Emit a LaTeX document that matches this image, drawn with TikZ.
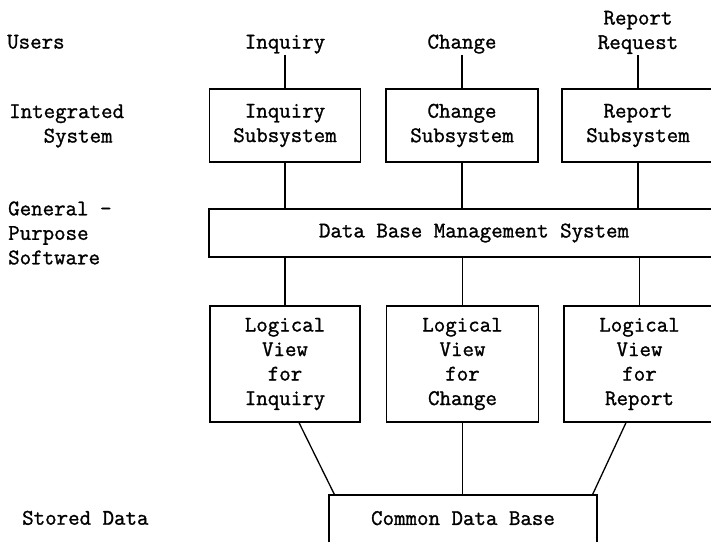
\documentclass[tikz,border=0pt]{standalone}
\usepackage{fontspec}
\newfontfamily\tw{Latin Modern Mono}[FakeBold=1.2]
\usetikzlibrary{calc}
\begin{document}
\begin{tikzpicture}[x=1pt,y=-1pt,
  every node/.style={font=\tw\fontsize{22.3}{24.5}\selectfont},
  box/.style={draw, line width=1.3pt, inner sep=0pt, align=center},
  lbl/.style={inner sep=1pt, align=center},
  side/.style={inner sep=0pt, align=left},
  conn/.style={line width=1.3pt}]
\useasboundingbox (0,0) rectangle (711,541);
\fill[white] (0,0) rectangle (711,541);
\clip (0,0) rectangle (711,541);

% left-hand level labels
\node[side, anchor=base west] (users) at (7,48.5) {Users};
\node[side, anchor=west] (integ) at (9,126) {Integrated\\\phantom{Int}System};
\node[side, anchor=west] (gen) at (8,233) {General -\\Purpose\\Software};
\node[side, anchor=base west] (stored) at (22,524.7) {Stored Data};

% user labels
\node[lbl, anchor=base] (linq) at (285,48.5) {Inquiry};
\node[lbl, anchor=base] (lchg) at (462,48.5) {Change};
\node[lbl] (lrep) at (638,32.4) {Report\\Request};

% subsystems
\node[box, minimum width=151pt, minimum height=73pt] (sinq) at (285,125.5) {Inquiry\\Subsystem};
\node[box, minimum width=152pt, minimum height=73pt] (schg) at (462,125.5) {Change\\Subsystem};
\node[box, minimum width=152pt, minimum height=73pt] (srep) at (638,125.5) {Report\\Subsystem};

% DBMS
\node[box, minimum width=530pt, minimum height=48pt] (dbms) at (474,233) {Data Base Management System};

% logical views
\node[box, minimum width=150pt, minimum height=116pt] (lvi) at (285,364) {Logical\\View\\for\\Inquiry};
\node[box, minimum width=152pt, minimum height=116pt] (lvc) at (462.5,364) {Logical\\View\\for\\Change};
\node[box, minimum width=151pt, minimum height=116pt] (lvr) at (639.5,364) {Logical\\View\\for\\Report};

% common data base
\node[box, minimum width=268pt, minimum height=60pt, text depth=14pt] (cdb) at (463,525) {Common Data Base};

% connectors
\draw[conn] (linq.south) -- (sinq.north);
\draw[conn] (lchg.south) -- (schg.north);
\draw[conn] (lrep.south) -- (srep.north);

\draw[conn] (sinq.south) -- (sinq.south |- dbms.north);
\draw[conn] (schg.south) -- (schg.south |- dbms.north);
\draw[conn] (srep.south) -- (srep.south |- dbms.north);

\draw[conn] (lvi.north |- dbms.south) -- (lvi.north);
\draw[conn] (lvc.north |- dbms.south) -- (lvc.north);
\draw[conn] (lvr.north |- dbms.south) -- (lvr.north);

\draw[conn] ($(lvi.south)+(14,0)$) -- ($(cdb.north west)+(6,0)$);
\draw[conn] (lvc.south) -- (lvc.south |- cdb.north);
\draw[conn] ($(lvr.south)+(-13.5,0)$) -- ($(cdb.north east)+(-5,0)$);
\end{tikzpicture}
\end{document}
